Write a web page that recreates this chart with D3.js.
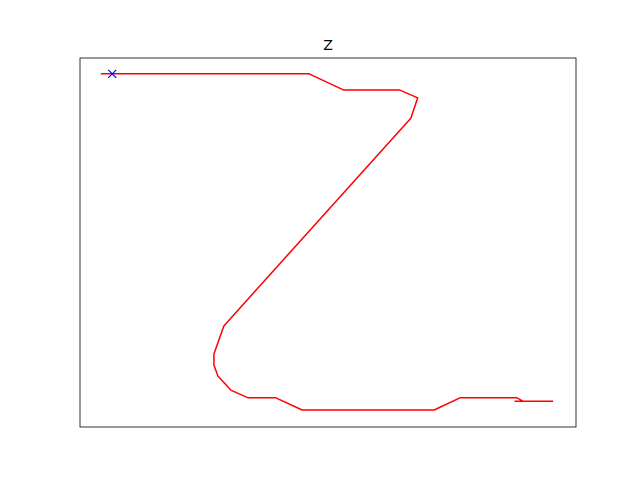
<!DOCTYPE html>
<html>
<head>
<meta charset="UTF-8">
<script src="https://cdn.jsdelivr.net/npm/d3@7"></script>
<style>body{margin:0;background:#fff}</style>
</head>
<body>
<svg id="chart" width="640" height="480"></svg>
<script>
// path of the letter, axes are 0..100
var xs = [4.2, 46.2, 53.2, 64.5, 68.1, 66.7, 29.0, 27.0, 27.0, 27.8, 30.4, 33.9, 39.5, 44.8, 71.4, 76.6, 88.1, 89.3, 87.7, 95.4];
var ys = [95.7, 95.7, 91.3, 91.3, 89.2, 83.7, 27.4, 19.8, 16.8, 13.8, 10.0, 7.9, 7.9, 4.6, 4.6, 7.9, 7.9, 7.0, 7.0, 7.0];
var markX = [6.5], markY = [95.7];

var svg = d3.select('#chart');
var x = d3.scaleLinear().domain([0, 100]).range([80, 576]);
var y = d3.scaleLinear().domain([0, 100]).range([427, 58]);

svg.append('rect').attr('x', 80).attr('y', 58).attr('width', 496).attr('height', 369)
   .attr('fill', 'none').attr('stroke', '#000').attr('stroke-width', 0.8);

svg.append('path').datum(d3.range(xs.length))
   .attr('d', d3.line().x(function(i){ return x(xs[i]); }).y(function(i){ return y(ys[i]); }))
   .attr('fill', 'none').attr('stroke', 'red').attr('stroke-width', 1.5)
   .attr('stroke-linejoin', 'round');

markX.forEach(function(v, i) {
   var cx = x(v), cy = y(markY[i]), s = 4;
   svg.append('path').attr('d', 'M' + (cx-s) + ',' + (cy-s) + 'L' + (cx+s) + ',' + (cy+s) + 'M' + (cx-s) + ',' + (cy+s) + 'L' + (cx+s) + ',' + (cy-s))
      .attr('stroke', 'blue').attr('stroke-width', 1.2);
});

svg.append('text').attr('x', 328).attr('y', 50).attr('text-anchor', 'middle')
   .attr('font-family', 'DejaVu Sans').attr('font-size', 14).text('Z');
</script>
</body>
</html>
